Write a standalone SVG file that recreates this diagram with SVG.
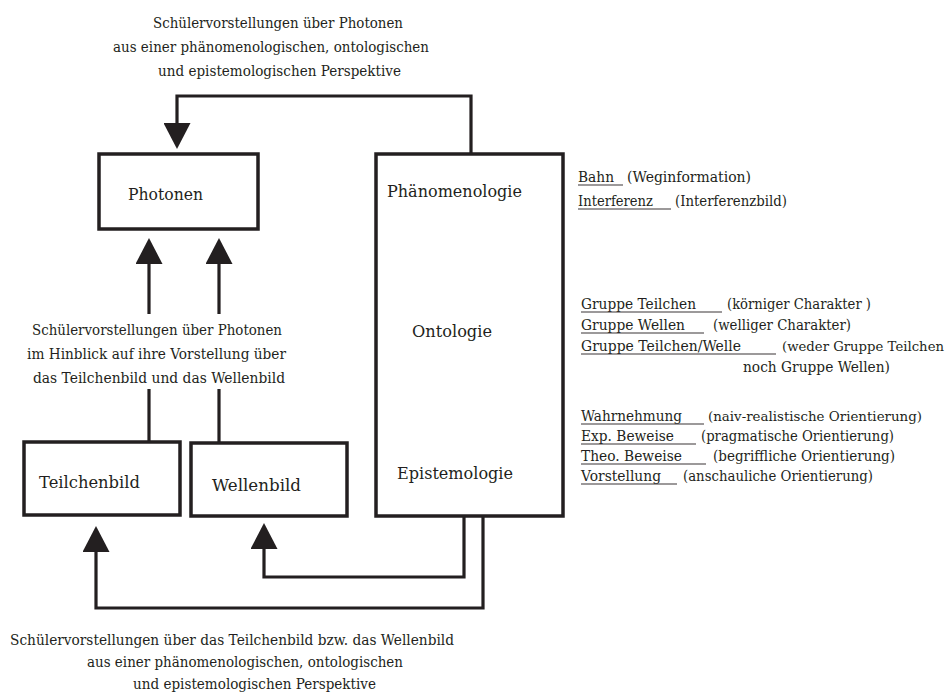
<svg xmlns="http://www.w3.org/2000/svg" width="952" height="693" viewBox="0 0 952 693">
<style>
text{font-family:"DejaVu Serif",serif;fill:#231f20}
.cap{font-size:15.5px}
.lbl{font-size:17.5px}
.side{font-size:14.5px}
.long{font-size:13.5px}
.box{fill:#fff;stroke:#231f20;stroke-width:3.5}
.con{fill:none;stroke:#231f20;stroke-width:3.2}
.ul{stroke:#3a3536;stroke-width:1.2}
</style>
<defs>
<marker id="ah" markerUnits="userSpaceOnUse" markerWidth="26" markerHeight="27" refX="0" refY="13.5" orient="auto" viewBox="0 0 26 27">
<path d="M0,0 L26,13.5 L0,27 Z" fill="#231f20"/>
</marker>
</defs>
<g id="captions" font-family="DejaVu Serif, serif">
<text class="cap" x="153" y="28" textLength="250" lengthAdjust="spacingAndGlyphs">Schülervorstellungen über Photonen</text>
<text class="cap" x="113" y="52" textLength="316" lengthAdjust="spacingAndGlyphs">aus einer phänomenologischen, ontologischen</text>
<text class="cap" x="158" y="76" textLength="243" lengthAdjust="spacingAndGlyphs">und epistemologischen Perspektive</text>
<text class="cap" x="32" y="335" textLength="250" lengthAdjust="spacingAndGlyphs">Schülervorstellungen über Photonen</text>
<text class="cap" x="27" y="359" textLength="259" lengthAdjust="spacingAndGlyphs">im Hinblick auf ihre Vorstellung über</text>
<text class="cap" x="33" y="383" textLength="252" lengthAdjust="spacingAndGlyphs">das Teilchenbild und das Wellenbild</text>
<text class="cap" x="10" y="645" textLength="444" lengthAdjust="spacingAndGlyphs">Schülervorstellungen über das Teilchenbild bzw. das Wellenbild</text>
<text class="cap" x="87" y="667" textLength="316" lengthAdjust="spacingAndGlyphs">aus einer phänomenologischen, ontologischen</text>
<text class="cap" x="133" y="689" textLength="243" lengthAdjust="spacingAndGlyphs">und epistemologischen Perspektive</text>
</g>
<g id="connectors">
<path class="con" d="M471,154 V96 H177 V123" marker-end="url(#ah)"/>
<path class="con" d="M149,314 V264" marker-end="url(#ah)"/>
<path class="con" d="M219,314 V264" marker-end="url(#ah)"/>
<path class="con" d="M149,442 V389"/>
<path class="con" d="M219,443 V389"/>
<path class="con" d="M464,516 V577 H264 V549" marker-end="url(#ah)"/>
<path class="con" d="M483,516 V608 H96 V552" marker-end="url(#ah)"/>
</g>
<g id="photonen" font-family="DejaVu Serif, serif">
<rect class="box" x="99" y="154" width="159" height="75"/>
<text class="lbl" x="128" y="200" textLength="75" lengthAdjust="spacingAndGlyphs">Photonen</text>
</g>
<g id="perspektiven" font-family="DejaVu Serif, serif">
<rect class="box" x="376" y="154" width="187" height="362"/>
<text class="lbl" x="387" y="197" textLength="135" lengthAdjust="spacingAndGlyphs">Phänomenologie</text>
<text class="lbl" x="412" y="337" textLength="80" lengthAdjust="spacingAndGlyphs">Ontologie</text>
<text class="lbl" x="397" y="479" textLength="116" lengthAdjust="spacingAndGlyphs">Epistemologie</text>
</g>
<g id="teilchenbild" font-family="DejaVu Serif, serif">
<rect class="box" x="24" y="442" width="156" height="73"/>
<text class="lbl" x="39" y="488" textLength="101" lengthAdjust="spacingAndGlyphs">Teilchenbild</text>
</g>
<g id="wellenbild" font-family="DejaVu Serif, serif">
<rect class="box" x="191" y="443" width="156" height="73"/>
<text class="lbl" x="212" y="491" textLength="89" lengthAdjust="spacingAndGlyphs">Wellenbild</text>
</g>
<g id="phaenomenologie-list" font-family="DejaVu Serif, serif">
<text class="side" x="578" y="182" textLength="36" lengthAdjust="spacingAndGlyphs">Bahn</text><line class="ul" x1="578" y1="185" x2="623" y2="185"/>
<text class="side" x="627" y="182" textLength="124" lengthAdjust="spacingAndGlyphs">(Weginformation)</text>
<text class="side" x="578" y="206" textLength="75" lengthAdjust="spacingAndGlyphs">Interferenz</text><line class="ul" x1="578" y1="209" x2="671" y2="209"/>
<text class="side" x="675" y="206" textLength="112" lengthAdjust="spacingAndGlyphs">(Interferenzbild)</text>
</g>
<g id="ontologie-list" font-family="DejaVu Serif, serif">
<text class="side" x="581" y="309" textLength="115" lengthAdjust="spacingAndGlyphs">Gruppe Teilchen</text><line class="ul" x1="581" y1="312" x2="722" y2="312"/>
<text class="side" x="727" y="309" textLength="144" lengthAdjust="spacingAndGlyphs">(körniger Charakter )</text>
<text class="side" x="581" y="330" textLength="104" lengthAdjust="spacingAndGlyphs">Gruppe Wellen</text><line class="ul" x1="581" y1="333" x2="704" y2="333"/>
<text class="side" x="713" y="330" textLength="138" lengthAdjust="spacingAndGlyphs">(welliger Charakter)</text>
<text class="side" x="581" y="351" textLength="160" lengthAdjust="spacingAndGlyphs">Gruppe Teilchen/Welle</text><line class="ul" x1="581" y1="354" x2="776" y2="354"/>
<text class="side long" x="782" y="351" textLength="162" lengthAdjust="spacingAndGlyphs">(weder Gruppe Teilchen</text>
<text class="side" x="743" y="372" textLength="147" lengthAdjust="spacingAndGlyphs">noch Gruppe Wellen)</text>
</g>
<g id="epistemologie-list" font-family="DejaVu Serif, serif">
<text class="side" x="581" y="421" textLength="101" lengthAdjust="spacingAndGlyphs">Wahrnehmung</text><line class="ul" x1="581" y1="424" x2="704" y2="424"/>
<text class="side long" x="708" y="421" textLength="214" lengthAdjust="spacingAndGlyphs">(naiv-realistische Orientierung)</text>
<text class="side" x="581" y="441" textLength="93" lengthAdjust="spacingAndGlyphs">Exp. Beweise</text><line class="ul" x1="581" y1="444" x2="696" y2="444"/>
<text class="side" x="701" y="441" textLength="193" lengthAdjust="spacingAndGlyphs">(pragmatische Orientierung)</text>
<text class="side" x="581" y="461" textLength="101" lengthAdjust="spacingAndGlyphs">Theo. Beweise</text><line class="ul" x1="581" y1="464" x2="706" y2="464"/>
<text class="side" x="713" y="461" textLength="182" lengthAdjust="spacingAndGlyphs">(begriffliche Orientierung)</text>
<text class="side" x="581" y="481" textLength="80" lengthAdjust="spacingAndGlyphs">Vorstellung</text><line class="ul" x1="581" y1="484" x2="677" y2="484"/>
<text class="side" x="683" y="481" textLength="190" lengthAdjust="spacingAndGlyphs">(anschauliche Orientierung)</text>
</g>
</svg>
